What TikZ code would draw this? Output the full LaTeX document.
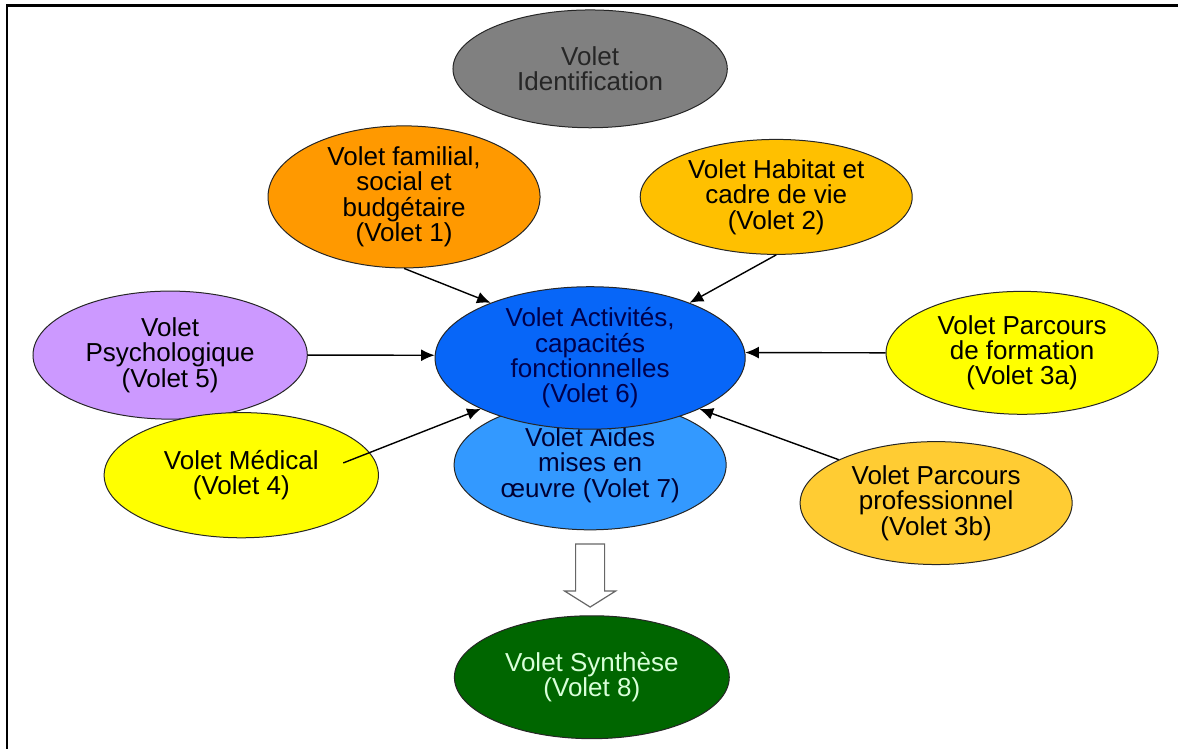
\documentclass[tikz,border=0pt]{standalone}
\usepackage{fontspec}
\setmainfont{Liberation Sans}
\usetikzlibrary{arrows.meta,shapes.geometric}

\definecolor{gris}{HTML}{808080}
\definecolor{orangeun}{HTML}{FF9900}
\definecolor{ordeux}{HTML}{FFC000}
\definecolor{bleusix}{HTML}{0766F8}
\definecolor{bleusept}{HTML}{3399FF}
\definecolor{violetcinq}{HTML}{CC99FF}
\definecolor{jaune}{HTML}{FFFF00}
\definecolor{ocre}{HTML}{FFCC33}
\definecolor{verthuit}{HTML}{006600}

\begin{document}
\begin{tikzpicture}
  \tikzstyle{every ellipse node}=[draw=black!85,line width=0.5pt,inner sep=0pt,align=center,
    font=\fontsize{13}{12.7}\selectfont]
  \tikzstyle{fleche}=[-{Latex[length=2.4mm,width=2.1mm]},line width=0.7pt]

  \useasboundingbox (-10.37,-6.87) rectangle (10.33,6.29);
  \draw[line width=1.3pt] (-10.25,-6.87) -- (-10.25,6.19) -- (10.33,6.19);

  \draw (0,5.08) node[ellipse,fill=gris,text=black!85,minimum width=4.82cm,minimum height=2.07cm] (I) {Volet\\Identification};

  \draw (-3.27,2.83) node[ellipse,fill=orangeun,minimum width=4.78cm,minimum height=2.02cm] (V1) {Volet familial,\\social et\\budgétaire\\(Volet 1)};
  \draw (3.27,2.83) node[ellipse,fill=ordeux,minimum width=4.78cm,minimum height=2.02cm] (V2) {Volet Habitat et\\cadre de vie\\(Volet 2)};

  \draw (0,-1.88) node[ellipse,fill=bleusept,text=black!80!blue,minimum width=4.78cm,minimum height=2.28cm] (V7) {Volet Aides\\mises en\\œuvre (Volet 7)};
  \draw (0,0) node[ellipse,fill=bleusix,text=black!70!blue,minimum width=5.45cm,minimum height=2.36cm] (V6) {Volet Activités,\\capacités\\fonctionnelles\\(Volet 6)};

  \draw (-7.38,0.05) node[ellipse,fill=violetcinq,minimum width=4.82cm,minimum height=2.25cm] (V5) {Volet\\Psychologique\\(Volet 5)};
  \draw (7.59,0.09) node[ellipse,fill=jaune,minimum width=4.78cm,minimum height=2.16cm] (V3a) {Volet Parcours\\de formation\\(Volet 3a)};

  \draw (-6.13,-2.06) node[ellipse,fill=jaune,minimum width=4.82cm,minimum height=2.2cm] (V4) {Volet Médical\\(Volet 4)};
  \draw (6.08,-2.55) node[ellipse,fill=ocre,minimum width=4.78cm,minimum height=2.16cm] (V3b) {Volet Parcours\\professionnel\\(Volet 3b)};

  \draw (0.03,-5.61) node[ellipse,fill=verthuit,text=green!15,minimum width=4.83cm,minimum height=2.16cm] (V8) {Volet Synthèse\\(Volet 8)};

  \path[fleche] (V1.south) edge (V6.151);
  \path[fleche] (V2.south) edge (V6.29);
  \path[fleche] (V5.east) edge (V6.179);
  \path[fleche] (V3a.west) edge (V6.2);
  \path[fleche,shorten <=-0.5cm] (V4.10) edge (V6.205);
  \path[fleche] (V3b.156) edge (V6.335);

  % fleche creuse vers la synthese
  \coordinate (F) at (0,-3.27);
  \draw[draw=black!60,line width=0.6pt,fill=white] (F) ++(-0.255,0) -- ++(0.51,0) -- ++(0,-0.826)
    -- ++(0.193,0) -- ++(-0.448,-0.281) -- ++(-0.448,0.281) -- ++(0.193,0) -- cycle;

\end{tikzpicture}
\end{document}
